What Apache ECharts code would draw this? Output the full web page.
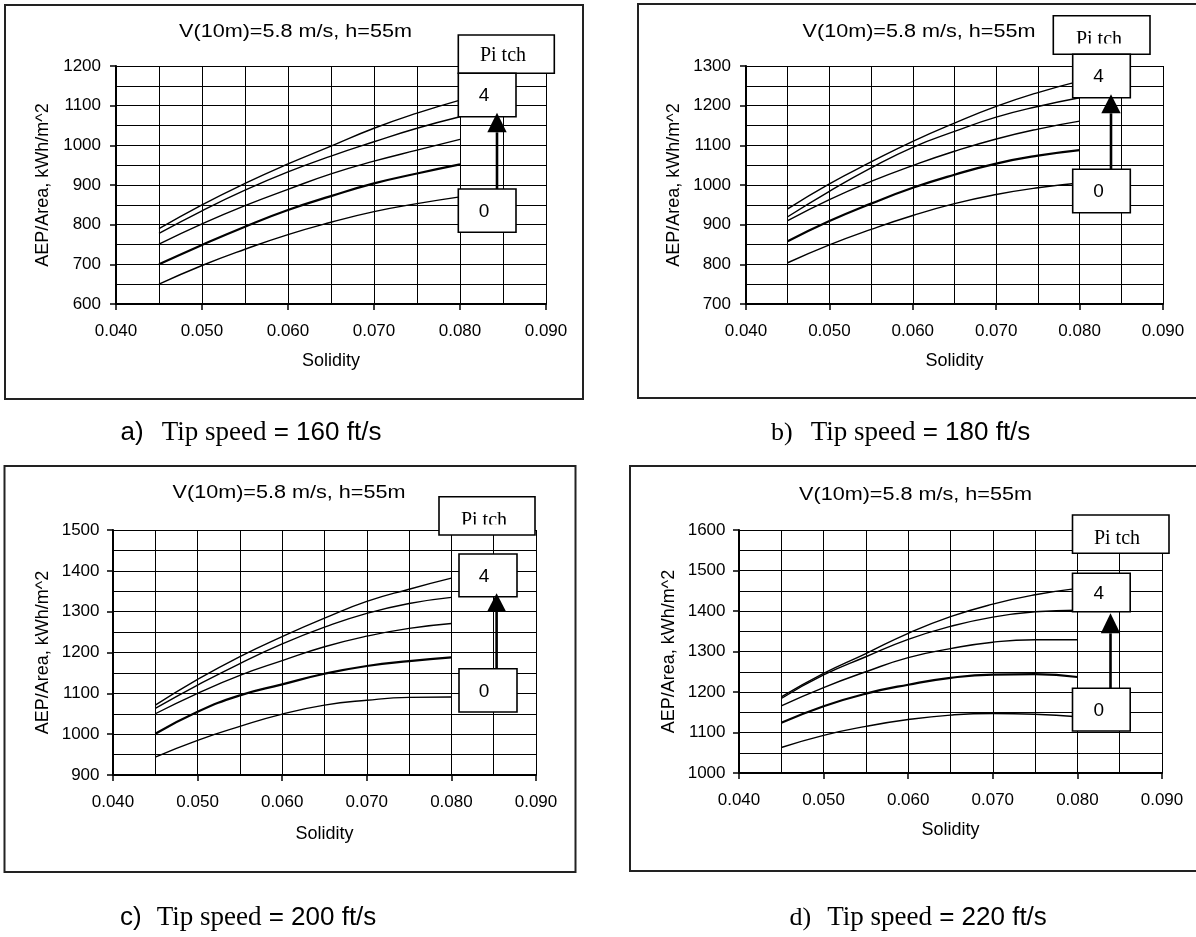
<!DOCTYPE html>
<html>
<head>
<meta charset="utf-8">
<title>AEP/Area vs Solidity</title>
<script src="https://cdn.jsdelivr.net/npm/echarts@6/dist/echarts.min.js"></script>
</head>
<body style="margin:0;background:#fff">
<div id="main" style="width:1196px;height:937px;"></div>
<script type="text/javascript">
// solidity values where each pitch curve was evaluated
var solidity = [0.045, 0.050, 0.055, 0.060, 0.065, 0.070, 0.075, 0.080];

// AEP/Area (kWh/m^2), one row per pitch setting 0..4
var aep160 = [
  [650, 697, 738, 775, 806, 833, 853, 870],
  [700, 749, 795, 837, 872, 904, 929, 952],
  [751, 802, 848, 889, 928, 960, 988, 1015],
  [778, 835, 887, 933, 973, 1009, 1043, 1072],
  [790, 850, 904, 953, 998, 1043, 1081, 1114]
];
var aep180 = [
  [804, 849, 888, 923, 953, 976, 993, 1005],
  [858, 909, 953, 993, 1026, 1054, 1074, 1088],
  [910, 963, 1009, 1049, 1085, 1116, 1141, 1161],
  [920, 984, 1043, 1095, 1135, 1171, 1198, 1220],
  [940, 1003, 1058, 1110, 1156, 1198, 1233, 1262]
];
var aep200 = [
  [944, 985, 1019, 1049, 1071, 1083, 1090, 1091],
  [1001, 1055, 1095, 1122, 1148, 1167, 1179, 1188],
  [1050, 1100, 1144, 1180, 1214, 1240, 1259, 1271],
  [1063, 1120, 1173, 1221, 1262, 1296, 1320, 1335],
  [1071, 1134, 1190, 1239, 1284, 1325, 1355, 1382]
];
var aep220 = [
  [1063, 1093, 1115, 1132, 1143, 1147, 1145, 1139],
  [1124, 1165, 1196, 1218, 1235, 1243, 1244, 1237],
  [1166, 1211, 1250, 1285, 1307, 1323, 1329, 1329],
  [1184, 1242, 1287, 1330, 1362, 1385, 1398, 1402],
  [1188, 1246, 1295, 1345, 1386, 1417, 1440, 1456]
];

var tipSpeeds = [160, 180, 200, 220];
var captionLetters = ['a)', 'b)', 'c)', 'd)'];
var yMins = [600, 700, 900, 1000];
var yMaxs = [1200, 1300, 1500, 1600];
var chartTitle = 'V(10m)=5.8 m/s, h=55m';
var xName = 'Solidity';
var yName = 'AEP/Area, kWh/m^2';
var pitchTop = '4', pitchBottom = '0', pitchName = 'Pi tch';

var SANS = '"Liberation Sans", Arial, sans-serif';
var SERIF = '"Liberation Serif", "Times New Roman", serif';

// layout of the four panels (pixels)
var panels = [
  { grid: [116, 66, 430, 238], frame: [5, 5, 578, 394], title: [295.5, 32], caption: [120.6, 433],
    letterSerif: false, gapLetter: 18, nameGapX: 48, nameGapY: 64, labelMarginY: 15,
    pitch: [458.3, 35, 96, 38.3], pitchText: [503, 56], mask: null,
    box4: [458.3, 73.3, 57.7, 43.4], box0: [458.3, 189, 57.7, 43.3], boxText: 484,
    arrowX: 497, arrowTip: 112.7, arrowBase: 132.3 },
  { grid: [746, 66, 417, 238], frame: [638, 4, 580, 394], title: [919, 32], caption: [771, 433],
    letterSerif: true, gapLetter: 18, nameGapX: 48, nameGapY: 63, labelMarginY: 15,
    pitch: [1053.3, 15.7, 96.7, 38.6], pitchText: [1099, 40], mask: [1055, 43.5, 93, 9.5],
    box4: [1072.7, 54.3, 57.6, 43.4], box0: [1072.7, 169.3, 57.6, 43.4], boxText: 1098.5,
    arrowX: 1111, arrowTip: 94.3, arrowBase: 113.3 },
  { grid: [113, 530, 423, 245], frame: [4.5, 466, 571, 406], title: [289, 493.5], caption: [120, 918],
    letterSerif: false, gapLetter: 15, nameGapX: 50, nameGapY: 61, labelMarginY: 13.5,
    pitch: [439, 496.7, 96, 38.3], pitchText: [484, 521], mask: [441, 524.5, 92, 9],
    box4: [459, 554, 58, 42.7], box0: [459, 668.7, 58, 43.3], boxText: 484,
    arrowX: 496.6, arrowTip: 593.3, arrowBase: 612 },
  { grid: [739, 530, 423, 243], frame: [630, 466, 580, 405], title: [915.5, 495], caption: [789.5, 918],
    letterSerif: true, gapLetter: 16, nameGapX: 48, nameGapY: 61, labelMarginY: 13.5,
    pitch: [1072.5, 515, 96.5, 38.3], pitchText: [1117, 538.3], mask: null,
    box4: [1072.5, 573.3, 57.7, 38.4], box0: [1072.5, 688.3, 57.7, 42.7], boxText: 1098.7,
    arrowX: 1110.5, arrowTip: 613.3, arrowBase: 633.3 }
];
var aepSets = [aep160, aep180, aep200, aep220];

var grids = [], xAxes = [], yAxes = [], series = [], graphics = [];

function txt(x, y, text, font, z, align) {
  return {
    type: 'text', z: z || 60, silent: true,
    style: {
      x: x, y: y, text: text, font: font, fill: '#000',
      align: align || 'center', verticalAlign: 'middle',
      textAlign: align || 'center', textVerticalAlign: 'middle'
    }
  };
}
function box(r, z) {
  return {
    type: 'rect', z: z || 55, silent: true,
    shape: { x: r[0], y: r[1], width: r[2], height: r[3] },
    style: { fill: '#fff', stroke: '#000', lineWidth: 1.6 }
  };
}

panels.forEach(function (p, i) {
  grids.push({ left: p.grid[0], top: p.grid[1], width: p.grid[2], height: p.grid[3], containLabel: false, outerBoundsMode: 'none' });

  xAxes.push({
    type: 'value', gridIndex: i, min: 0.04, max: 0.09, interval: 0.01,
    name: xName, nameLocation: 'middle', nameGap: p.nameGapX,
    nameTextStyle: { fontSize: 18, color: '#000', fontFamily: SANS },
    axisLine: { show: true, onZero: false, lineStyle: { color: '#000', width: 2 } },
    axisTick: { show: true, length: 6, lineStyle: { color: '#000', width: 1.5 } },
    axisLabel: { fontSize: 17, color: '#000', fontFamily: SANS, margin: 19,
      formatter: function (v) { return v.toFixed(3); } },
    splitLine: { show: true, lineStyle: { color: '#000', width: 1 } },
    minorTick: { show: false, splitNumber: 2 },
    minorSplitLine: { show: true, lineStyle: { color: '#000', width: 1 } }
  });

  yAxes.push({
    type: 'value', gridIndex: i, min: yMins[i], max: yMaxs[i], interval: 100,
    name: yName, nameLocation: 'middle', nameGap: p.nameGapY,
    nameTextStyle: { fontSize: 18, color: '#000', fontFamily: SANS },
    axisLine: { show: true, lineStyle: { color: '#000', width: 2 } },
    axisTick: { show: true, length: 6, lineStyle: { color: '#000', width: 1.5 } },
    axisLabel: { fontSize: 17, color: '#000', fontFamily: SANS, margin: p.labelMarginY,
      formatter: function (v) { return String(v); } },
    splitLine: { show: true, lineStyle: { color: '#000', width: 1 } },
    minorTick: { show: false, splitNumber: 2 },
    minorSplitLine: { show: true, lineStyle: { color: '#000', width: 1 } }
  });

  aepSets[i].forEach(function (row, k) {
    series.push({
      name: 'Pitch ' + k, type: 'line', xAxisIndex: i, yAxisIndex: i,
      data: solidity.map(function (s, j) { return [s, row[j]]; }),
      smooth: true, showSymbol: false, symbol: 'none', z: 3,
      lineStyle: { color: '#000', width: k === 1 ? 2.2 : 1.4 }
    });
  });

  // outer frame
  graphics.push({
    type: 'rect', z: 1, silent: true,
    shape: { x: p.frame[0], y: p.frame[1], width: p.frame[2], height: p.frame[3] },
    style: { fill: 'none', stroke: '#222', lineWidth: 2 }
  });
  // chart title (text in the source is drawn slightly wide)
  graphics.push({
    type: 'text', z: 10, silent: true,
    x: p.title[0], y: p.title[1], scaleX: 1.2,
    style: {
      text: chartTitle, font: '18px ' + SANS, fill: '#000',
      align: 'center', verticalAlign: 'middle', textAlign: 'center', textVerticalAlign: 'middle'
    }
  });

  // pitch annotation boxes
  graphics.push(box(p.pitch, 55));
  graphics.push(txt(p.pitchText[0], p.pitchText[1], pitchName, '20px ' + SERIF, 56));
  if (p.mask) {
    graphics.push({
      type: 'rect', z: 57, silent: true,
      shape: { x: p.mask[0], y: p.mask[1], width: p.mask[2], height: p.mask[3] },
      style: { fill: '#fff' }
    });
  }
  graphics.push(box(p.box4, 55));
  graphics.push(txt(p.boxText, p.box4[1] + p.box4[3] / 2 + 1, pitchTop, '19px ' + SANS, 56));
  graphics.push(box(p.box0, 55));
  graphics.push(txt(p.boxText, p.box0[1] + p.box0[3] / 2 + 1, pitchBottom, '19px ' + SANS, 56));
  // arrow from 0 up to 4
  graphics.push({
    type: 'line', z: 58, silent: true,
    shape: { x1: p.arrowX, y1: p.box0[1], x2: p.arrowX, y2: p.arrowBase },
    style: { stroke: '#000', lineWidth: 2.6 }
  });
  graphics.push({
    type: 'polygon', z: 58, silent: true,
    shape: { points: [[p.arrowX, p.arrowTip], [p.arrowX - 9.7, p.arrowBase], [p.arrowX + 9.7, p.arrowBase]] },
    style: { fill: '#000' }
  });

  // caption under the panel
  var lf = p.letterSerif ? SERIF : SANS;
  graphics.push({
    type: 'text', z: 10, silent: true,
    style: {
      x: p.caption[0], y: p.caption[1],
      text: '{l|' + captionLetters[i] + '}{g|}{t|Tip speed}{s| = ' + tipSpeeds[i] + ' ft/s}',
      verticalAlign: 'middle', textVerticalAlign: 'middle', align: 'left', textAlign: 'left',
      rich: {
        l: { fontSize: 26, fontFamily: lf, fill: '#000', color: '#000' },
        g: { width: p.gapLetter },
        t: { fontSize: 27, fontFamily: SERIF, fill: '#000', color: '#000' },
        s: { fontSize: 26, fontFamily: SANS, fill: '#000', color: '#000' }
      }
    }
  });
});

var myChart = echarts.init(document.getElementById('main'));
myChart.setOption({
  animation: false,
  backgroundColor: '#fff',
  textStyle: { fontFamily: SANS },
  grid: grids,
  xAxis: xAxes,
  yAxis: yAxes,
  series: series,
  graphic: graphics
});
</script>
</body>
</html>
